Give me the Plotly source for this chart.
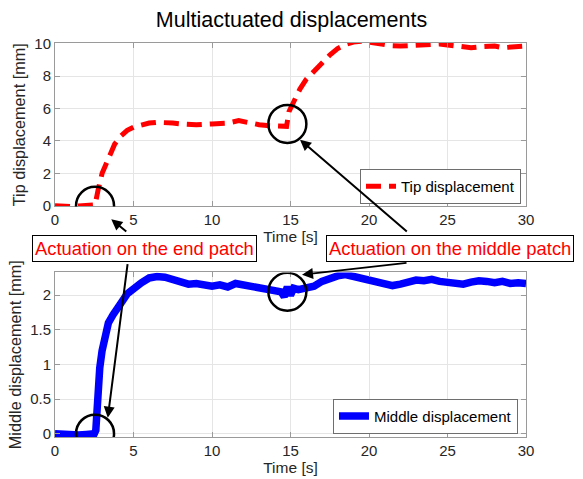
import plotly.graph_objects as go

# ---------------- data ----------------
t_tip = [0, 0.5, 1.0, 1.5, 2.0, 2.4, 2.55, 2.75, 3.0, 3.4, 3.8, 4.2, 4.6, 5.0, 5.5, 6.0,
         6.5, 7.0, 7.5, 8.0, 9.0, 10.0, 11.0, 11.7, 12.5, 13.0, 13.5, 14.0, 14.5, 14.75,
         14.9, 15.2, 15.6, 16.0, 16.5, 17.0, 17.5, 18.0, 18.5, 19.0, 19.5, 20.0, 20.5,
         21.0, 21.5, 22.0, 22.5, 23.0, 23.5, 24.0, 24.5, 25.0, 25.5, 26.0, 26.5, 27.0,
         27.5, 28.0, 28.5, 29.0, 29.5, 30.0]
tip_disp = [0, -0.05, -0.05, -0.02, 0, 0, 0.05, 1.0, 2.0, 2.9, 3.8, 4.3, 4.65, 4.85, 5.0,
            5.1, 5.15, 5.15, 5.1, 5.05, 5.0, 5.05, 5.1, 5.25, 5.05, 5.0, 4.95, 4.9, 4.85,
            4.9, 5.8, 6.4, 7.2, 7.8, 8.3, 8.85, 9.3, 9.7, 9.95, 10.1, 10.15, 10.1, 10.0,
            9.9, 9.87, 9.85, 9.87, 9.92, 9.97, 10.0, 9.98, 9.92, 9.85, 9.78, 9.75, 9.8,
            9.85, 9.85, 9.75, 9.8, 9.85, 9.85]

t_mid = [0, 0.5, 1, 1.5, 2, 2.5, 2.6, 2.7, 2.85, 3.0, 3.2, 3.4, 3.7, 4.0, 4.3, 4.6, 5.0,
         5.5, 6.0, 6.5, 7.0, 7.5, 8.0, 8.5, 9, 9.5, 10, 10.5, 11, 11.5, 12, 12.5, 13, 13.5,
         14, 14.4, 14.6, 14.8, 15.0, 15.2, 15.5, 16, 16.5, 17, 17.5, 18, 18.5, 19, 19.5,
         20, 20.5, 21, 21.5, 22, 22.5, 23, 23.5, 24, 24.5, 25, 25.5, 26, 26.5, 27, 27.5,
         28, 28.5, 29, 29.5, 30]
mid_disp = [0, -0.01, 0, -0.02, -0.01, 0, 0.05, 0.7, 0.95, 1.2, 1.45, 1.6, 1.72, 1.8,
            1.92, 2.02, 2.1, 2.18, 2.25, 2.27, 2.26, 2.22, 2.19, 2.16, 2.17, 2.14, 2.13,
            2.15, 2.12, 2.17, 2.15, 2.12, 2.1, 2.08, 2.07, 2.05, 1.98, 2.12, 2.0, 2.1,
            2.08, 2.1, 2.13, 2.2, 2.25, 2.28, 2.3, 2.27, 2.24, 2.22, 2.2, 2.15, 2.14, 2.16,
            2.2, 2.22, 2.21, 2.23, 2.2, 2.18, 2.17, 2.16, 2.19, 2.21, 2.2, 2.18, 2.2, 2.17,
            2.18, 2.17]

assert len(t_tip) == len(tip_disp)
assert len(t_mid) == len(mid_disp)

x_ticks = [0, 5, 10, 15, 20, 25, 30]
tip_ticks = [0, 2, 4, 6, 8, 10]
mid_ticks = [0, 0.5, 1, 1.5, 2]

end_act_t = 2.55
mid_act_t = 14.8
tip_at_mid = 5.05
mid_at_mid = 2.05

# ---------------- layout helpers ----------------
W, H = 583, 479
ML, MR, MT, MB = 55.3, 57.3, 43.3, 41.7
PW = W - ML - MR
PH = H - MT - MB


def px(xp):
    return (xp - ML) / PW


def py(yp):
    return (H - MB - yp) / PH


FONT = "Liberation Sans, Arial, Helvetica, sans-serif"
AX = "#262626"
BOX = "#9a9a9a"
GRID = "#e5e5e5"

fig = go.Figure()
fig.add_trace(go.Scatter(x=t_tip, y=tip_disp, mode="lines", name="Tip displacement",
                         line=dict(color="#ff0000", width=5, dash="15px,8px"),
                         xaxis="x", yaxis="y", legend="legend"))
fig.add_trace(go.Scatter(x=t_mid, y=mid_disp, mode="lines", name="Middle displacement",
                         line=dict(color="#0000ff", width=7.5),
                         xaxis="x2", yaxis="y2", legend="legend2"))

axis_common = dict(showline=True, mirror="ticks", linecolor=BOX, linewidth=1,
                   ticks="inside", ticklen=5, tickcolor=BOX, showgrid=True,
                   gridcolor=GRID, zeroline=False,
                   tickfont=dict(family=FONT, size=15, color=AX))

top_dom = [py(206.7), 1.0]
bot_dom = [0.0, py(272.7)]

fig.update_layout(
    width=W, height=H,
    margin=dict(l=ML, r=MR, t=MT, b=MB, autoexpand=False),
    paper_bgcolor="white", plot_bgcolor="white",
    title=dict(text="Multiactuated displacements", x=0.5, xanchor="center",
               y=1 - 19 / H, yanchor="middle",
               font=dict(family=FONT, size=21.5, color="black")),
    xaxis=dict(domain=[0, 1], anchor="y", range=[0, 30], tickvals=x_ticks,
               title=dict(text="Time [s]", font=dict(family=FONT, size=15.5, color=AX),
                          standoff=2),
               **axis_common),
    yaxis=dict(domain=top_dom, anchor="x", range=[-0.04, 10.04], tickvals=tip_ticks,
               title=dict(text="Tip displacement [mm]",
                          font=dict(family=FONT, size=16.3, color=AX), standoff=4),
               **axis_common),
    xaxis2=dict(domain=[0, 1], anchor="y2", range=[0, 30], tickvals=x_ticks,
                title=dict(text="Time [s]", font=dict(family=FONT, size=15.5, color=AX),
                           standoff=2),
                **axis_common),
    yaxis2=dict(domain=bot_dom, anchor="x2", range=[-0.048, 2.33], tickvals=mid_ticks,
                title=dict(text="Middle displacement [mm]",
                           font=dict(family=FONT, size=16.3, color=AX), standoff=4),
                **axis_common),
    legend=dict(x=px(520.7), y=py(204.3), xanchor="right", yanchor="bottom",
                bgcolor="white", bordercolor="#6e6e6e", borderwidth=1,
                font=dict(family=FONT, size=15, color="black"),
                itemwidth=30, tracegroupgap=0),
    legend2=dict(x=px(517.7), y=py(434), xanchor="right", yanchor="bottom",
                 bgcolor="white", bordercolor="#6e6e6e", borderwidth=1,
                 font=dict(family=FONT, size=15, color="black"),
                 itemwidth=30, tracegroupgap=0),
    showlegend=True,
)

# circles around the actuation instants (pixel-sized, anchored on data)
R = 19
for xa, ya, xv, yv in [("x", "y", end_act_t, 0), ("x", "y", mid_act_t, tip_at_mid),
                       ("x2", "y2", end_act_t, 0), ("x2", "y2", mid_act_t, mid_at_mid)]:
    fig.add_shape(type="circle", xref=xa, yref=ya, xsizemode="pixel", ysizemode="pixel",
                  xanchor=xv, yanchor=yv, x0=-R, x1=R, y0=-R, y1=R,
                  line=dict(color="black", width=2.5))

# arrows (head pixel position, tail pixel position)
arrows = [((111.5, 219.5), (128, 233)),
          ((108, 418), (128, 263)),
          ((300, 140), (408.3, 233)),
          ((302, 275), (408, 263))]
for (hx, hy), (tx, ty) in arrows:
    fig.add_annotation(xref="paper", yref="paper", x=px(hx), y=py(hy), ax=tx - hx,
                       ay=ty - hy, axref="pixel", ayref="pixel", text="",
                       showarrow=True, arrowhead=2, arrowsize=1.1, arrowwidth=2,
                       arrowcolor="black", standoff=0, startstandoff=0)

for label, cx in [("Actuation on the end patch", 144.5),
                  ("Actuation on the middle patch", 450)]:
    fig.add_annotation(xref="paper", yref="paper", x=px(cx), y=py(248.6),
                       xanchor="center", yanchor="middle", text=label, showarrow=False,
                       font=dict(family=FONT, size=18.4, color="#ff0000"),
                       bgcolor="white", bordercolor="black", borderwidth=1, borderpad=2)

fig.write_html("out.html", config={"displayModeBar": False},
               post_script="document.body.style.margin='0';"
                           "document.body.style.overflow='hidden';")
